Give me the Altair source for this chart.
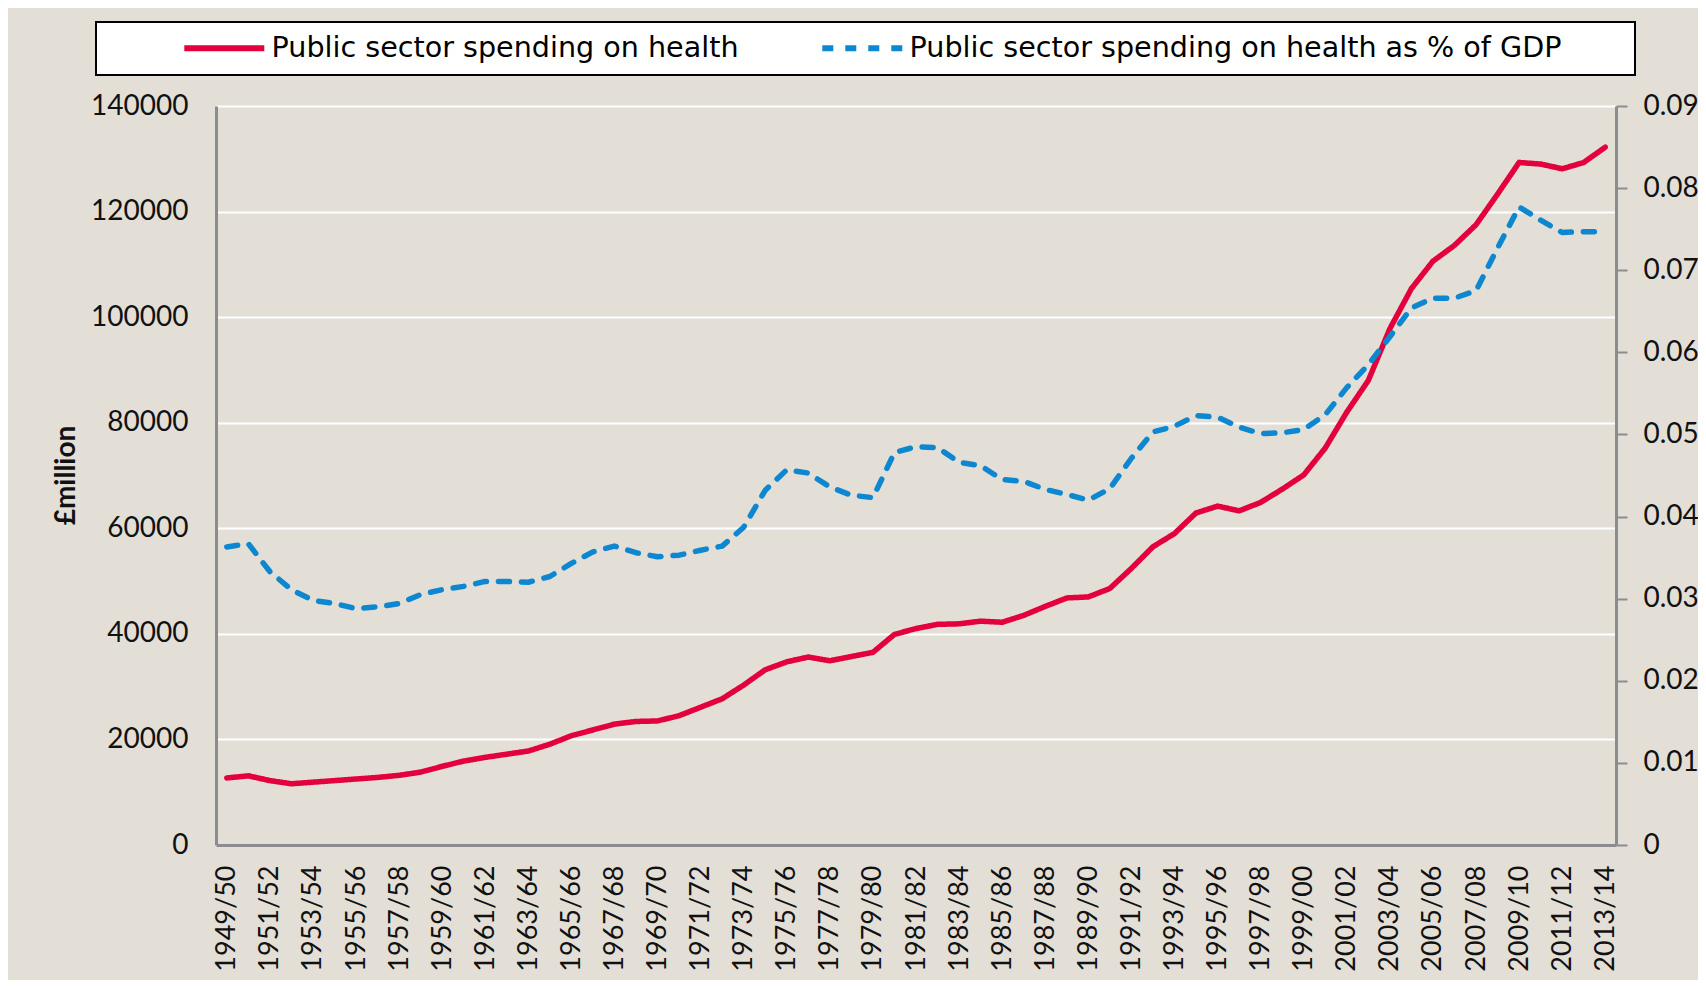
import altair as alt
import pandas as pd

years = [
    "1949/50", "1950/51", "1951/52", "1952/53", "1953/54", "1954/55", "1955/56", "1956/57",
    "1957/58", "1958/59", "1959/60", "1960/61", "1961/62", "1962/63", "1963/64", "1964/65",
    "1965/66", "1966/67", "1967/68", "1968/69", "1969/70", "1970/71", "1971/72", "1972/73",
    "1973/74", "1974/75", "1975/76", "1976/77", "1977/78", "1978/79", "1979/80", "1980/81",
    "1981/82", "1982/83", "1983/84", "1984/85", "1985/86", "1986/87", "1987/88", "1988/89",
    "1989/90", "1990/91", "1991/92", "1992/93", "1993/94", "1994/95", "1995/96", "1996/97",
    "1997/98", "1998/99", "1999/00", "2000/01", "2001/02", "2002/03", "2003/04", "2004/05",
    "2005/06", "2006/07", "2007/08", "2008/09", "2009/10", "2010/11", "2011/12", "2012/13",
    "2013/14",
]

tick_years = [
    "1949/50", "1951/52", "1953/54", "1955/56", "1957/58", "1959/60", "1961/62", "1963/64",
    "1965/66", "1967/68", "1969/70", "1971/72", "1973/74", "1975/76", "1977/78", "1979/80",
    "1981/82", "1983/84", "1985/86", "1987/88", "1989/90", "1991/92", "1993/94", "1995/96",
    "1997/98", "1999/00", "2001/02", "2003/04", "2005/06", "2007/08", "2009/10", "2011/12",
    "2013/14",
]

spending = [
    12700, 13100, 12200, 11600, 11900, 12200, 12500, 12800, 13200, 13800,
    14900, 15900, 16600, 17200, 17800, 19100, 20700, 21800, 22900, 23400,
    23500, 24500, 26100, 27700, 30300, 33200, 34700, 35600, 34900, 35700,
    36500, 39900, 41000, 41800, 41900, 42400, 42200, 43500, 45200, 46800,
    47000, 48600, 52400, 56500, 59000, 62900, 64200, 63300, 64900, 67400,
    70100, 75200, 82000, 88000, 97800, 105400, 110600, 113600, 117500, 123300,
    129300, 129000, 128100, 129300, 132200,
]

pct_gdp = [
    0.0363, 0.0367, 0.0333, 0.0311, 0.0298, 0.0294, 0.0288, 0.0290, 0.0294, 0.0305,
    0.0311, 0.0315, 0.0321, 0.0321, 0.0320, 0.0327, 0.0343, 0.0357, 0.0364, 0.0356,
    0.0351, 0.0353, 0.0359, 0.0364, 0.0387, 0.0432, 0.0457, 0.0453, 0.0436, 0.0426,
    0.0423, 0.0478, 0.0485, 0.0484, 0.0466, 0.0462, 0.0445, 0.0443, 0.0433, 0.0427,
    0.0420, 0.0434, 0.0471, 0.0503, 0.0510, 0.0523, 0.0521, 0.0509, 0.0501, 0.0502,
    0.0506, 0.0524, 0.0557, 0.0585, 0.0619, 0.0654, 0.0666, 0.0666, 0.0675, 0.0727,
    0.0777, 0.0761, 0.0746, 0.0747, 0.0747,
]

left_ticks = [0, 20000, 40000, 60000, 80000, 100000, 120000, 140000]
right_ticks = [0, 0.01, 0.02, 0.03, 0.04, 0.05, 0.06, 0.07, 0.08, 0.09]

series_a = "Public sector spending on health"
series_b = "Public sector spending on health as % of GDP"

RED = "#E4003C"
BLUE = "#0E87D1"
BG = "#E3DFD7"
AXIS_GREY = "#8C8C8C"
FONT = "Lato"
LEGEND_FONT = "DejaVu Sans"

df = pd.concat([
    pd.DataFrame({"year": years, "series": series_a, "value": spending}),
    pd.DataFrame({"year": years, "series": series_b, "value": pct_gdp}),
])

legend = alt.Legend(
    orient="none", legendX=-120, legendY=-84, direction="horizontal",
    title="\u00a0", titleOrient="right", titlePadding=62, titleFontSize=10,
    fillColor="white", strokeColor="black", padding=12,
    symbolType="M-4,0L4,0", symbolSize=400, symbolStrokeWidth=6,
    symbolOffset=102, columnPadding=7, labelOffset=33,
    labelFont=LEGEND_FONT, labelFontSize=28.6, labelColor="#000000", labelLimit=1200,
)

color = alt.Color("series:N", scale=alt.Scale(domain=[series_a, series_b], range=[RED, BLUE]), legend=legend)
dash = alt.StrokeDash("series:N", scale=alt.Scale(domain=[series_a, series_b], range=[[1, 0], [11, 12]]), legend=legend)

x = alt.X(
    "year:O", sort=years, scale=alt.Scale(domain=years),
    axis=alt.Axis(
        values=tick_years, labelAngle=270, title=None, ticks=False, grid=False,
        domainColor=AXIS_GREY, domainWidth=3, labelPadding=20,
        labelFont=FONT, labelFontSize=27, labelColor="#111111",
    ),
)

base = alt.Chart(df).encode(x=x, color=color, strokeDash=dash)

line_a = base.transform_filter(alt.datum.series == series_a).mark_line(
    strokeWidth=5.5, strokeCap="round", strokeJoin="round"
).encode(
    y=alt.Y(
        "value:Q", scale=alt.Scale(domain=[0, 140000], nice=False),
        axis=alt.Axis(
            values=left_ticks, format="d", grid=True, gridColor="white", gridWidth=2,
            ticks=False, tickSize=0, domainColor=AXIS_GREY, domainWidth=3,
            labelPadding=28, labelFont=FONT, labelFontSize=28, labelColor="#111111",
            title="£million", titleFont=FONT, titleFontSize=28, titleFontWeight="bold",
            titleColor="#111111", titleX=-150, titleY=369, titleAngle=270,
            titleAlign="center", titleBaseline="middle",
        ),
    )
)

line_b = base.transform_filter(alt.datum.series == series_b).mark_line(
    strokeWidth=5.5, strokeCap="round", strokeJoin="round"
).encode(
    y=alt.Y(
        "value:Q", scale=alt.Scale(domain=[0, 0.09], nice=False),
        axis=alt.Axis(
            orient="right", values=right_ticks, format=".2~f", grid=False,
            ticks=True, tickSize=11, tickWidth=2, tickColor=AXIS_GREY,
            domainColor=AXIS_GREY, domainWidth=3, labelPadding=16,
            labelFont=FONT, labelFontSize=28, labelColor="#111111", title=None,
        ),
    )
)

chart = alt.layer(line_a, line_b).resolve_scale(y="independent").properties(
    width=1400, height=739,
    autosize=alt.AutoSizeParams(type="none"),
    padding={"left": 208, "top": 98, "right": 82, "bottom": 135},
    background=BG,
).configure_view(stroke=None).configure_legend(strokeWidth=2)

chart.save("out.html", embed_options={"renderer": "svg", "actions": False})
